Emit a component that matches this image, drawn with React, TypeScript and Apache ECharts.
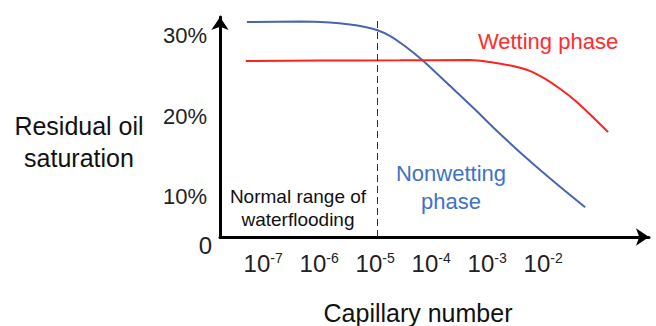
import React, { useEffect, useRef } from "react";
import * as echarts from "echarts";

// log10(capillary number) positions of the tick labels
const xTickExponents = [-7, -6, -5, -4, -3, -2];
// residual oil saturation tick values (%); the axis origin is labelled "0"
const yTickValues = [5, 10, 20, 30];
const yOriginValue = 5;

// Nonwetting phase curve: [log10(Nc), Sor %]
const nonwettingX = [-7.29, -6.34, -5.81, -5.45, -5.18, -4.97, -4.73, -4.47, -4.16, -3.66, -3.22, -2.9, -2.41, -1.88, -1.25];
const nonwettingY = [31.68, 31.74, 31.61, 31.37, 31.06, 30.68, 29.94, 28.7, 26.96, 23.73, 20.85, 18.65, 15.5, 12.3, 8.7];

// Wetting phase curve
const wettingX = [-7.31, -5.98, -4.56, -3.31, -2.95, -2.54, -2.23, -1.97, -1.7, -1.43, -1.16, -0.84];
const wettingY = [26.83, 26.89, 26.92, 26.96, 26.71, 26.21, 25.59, 24.65, 23.4, 21.95, 20.2, 18.01];

// upper limit of normal waterflooding range (log10 Nc)
const waterfloodLimit = -4.97;

const FONT = "Liberation Sans, Arial, sans-serif";

export default function App() {
  const ref = useRef<HTMLDivElement>(null);
  useEffect(() => {
    if (!ref.current) return;
    const chart = echarts.init(ref.current, undefined, { renderer: "svg" });
    const zip = (xs: number[], ys: number[]) => xs.map((x, i) => [x, ys[i]]);
    chart.setOption({
      animation: false,
      backgroundColor: "#ffffff",
      textStyle: { fontFamily: FONT },
      grid: { left: 220, right: 7, top: 17, bottom: 89 },
      xAxis: {
        type: "value",
        min: -7.77,
        max: -0.11,
        splitLine: { show: false },
        axisTick: { show: false },
        axisLine: {
          onZero: false,
          symbol: ["none", "arrow"],
          symbolSize: [13, 13],
          lineStyle: { color: "#000", width: 3 },
        },
        axisLabel: {
          customValues: xTickExponents,
          margin: 14,
          formatter: (v: number) => `{b|10}{s|${v}}`,
          rich: {
            b: { fontSize: 24, color: "#222", fontFamily: FONT, lineHeight: 24 },
            s: { fontSize: 14, color: "#222", fontFamily: FONT, lineHeight: 14, verticalAlign: "top" },
          },
        },
      },
      yAxis: {
        type: "value",
        min: yOriginValue,
        max: 32.3,
        splitLine: { show: false },
        axisTick: { show: false },
        axisLine: {
          symbol: ["none", "arrow"],
          symbolSize: [13, 13],
          lineStyle: { color: "#000", width: 3 },
        },
        axisLabel: {
          customValues: yTickValues,
          margin: 8,
          formatter: (v: number) => (v === yOriginValue ? "{z|0}" : `{n|${v}%}`),
          rich: {
            n: { fontSize: 22, color: "#222", fontFamily: FONT, padding: [0, 5, 0, 0] },
            z: { fontSize: 24, color: "#222", fontFamily: FONT, padding: [16, 0, 0, 0] },
          },
        },
      },
      series: [
        {
          type: "line",
          name: "Nonwetting phase",
          data: zip(nonwettingX, nonwettingY),
          smooth: 0.3,
          showSymbol: false,
          lineStyle: { color: "#4766ab", width: 2 },
          markLine: {
            silent: true,
            symbol: ["none", "none"],
            label: { show: false },
            lineStyle: { color: "#333", width: 1, type: [7, 4] },
            data: [{ xAxis: waterfloodLimit }],
          },
        },
        {
          type: "line",
          name: "Wetting phase",
          data: zip(wettingX, wettingY),
          smooth: 0.3,
          showSymbol: false,
          lineStyle: { color: "#ff2020", width: 2 },
        },
      ],
      graphic: [
        {
          type: "text",
          x: 79,
          y: 142,
          style: {
            text: "Residual oil\nsaturation",
            font: `25px ${FONT}`,
            fill: "#111",
            align: "center",
            verticalAlign: "middle",
            lineHeight: 32,
          },
        },
        {
          type: "text",
          x: 418,
          y: 313,
          style: {
            text: "Capillary number",
            font: `25px ${FONT}`,
            fill: "#111",
            align: "center",
            verticalAlign: "middle",
          },
        },
        {
          type: "text",
          x: 548,
          y: 41,
          style: {
            text: "Wetting phase",
            font: `22px ${FONT}`,
            fill: "#ff2d2d",
            align: "center",
            verticalAlign: "middle",
          },
        },
        {
          type: "text",
          x: 451,
          y: 187,
          style: {
            text: "Nonwetting\nphase",
            font: `22px ${FONT}`,
            fill: "#3f72c6",
            align: "center",
            verticalAlign: "middle",
            lineHeight: 28,
          },
        },
        {
          type: "text",
          x: 298,
          y: 208,
          style: {
            text: "Normal range of\nwaterflooding",
            font: `19px ${FONT}`,
            fill: "#111",
            align: "center",
            verticalAlign: "middle",
            lineHeight: 23,
          },
        },
      ],
    });
    return () => chart.dispose();
  }, []);
  return (
    <div
      ref={ref}
      style={{ position: "fixed", left: 0, top: 0, width: 656, height: 326, background: "#fff" }}
    />
  );
}
